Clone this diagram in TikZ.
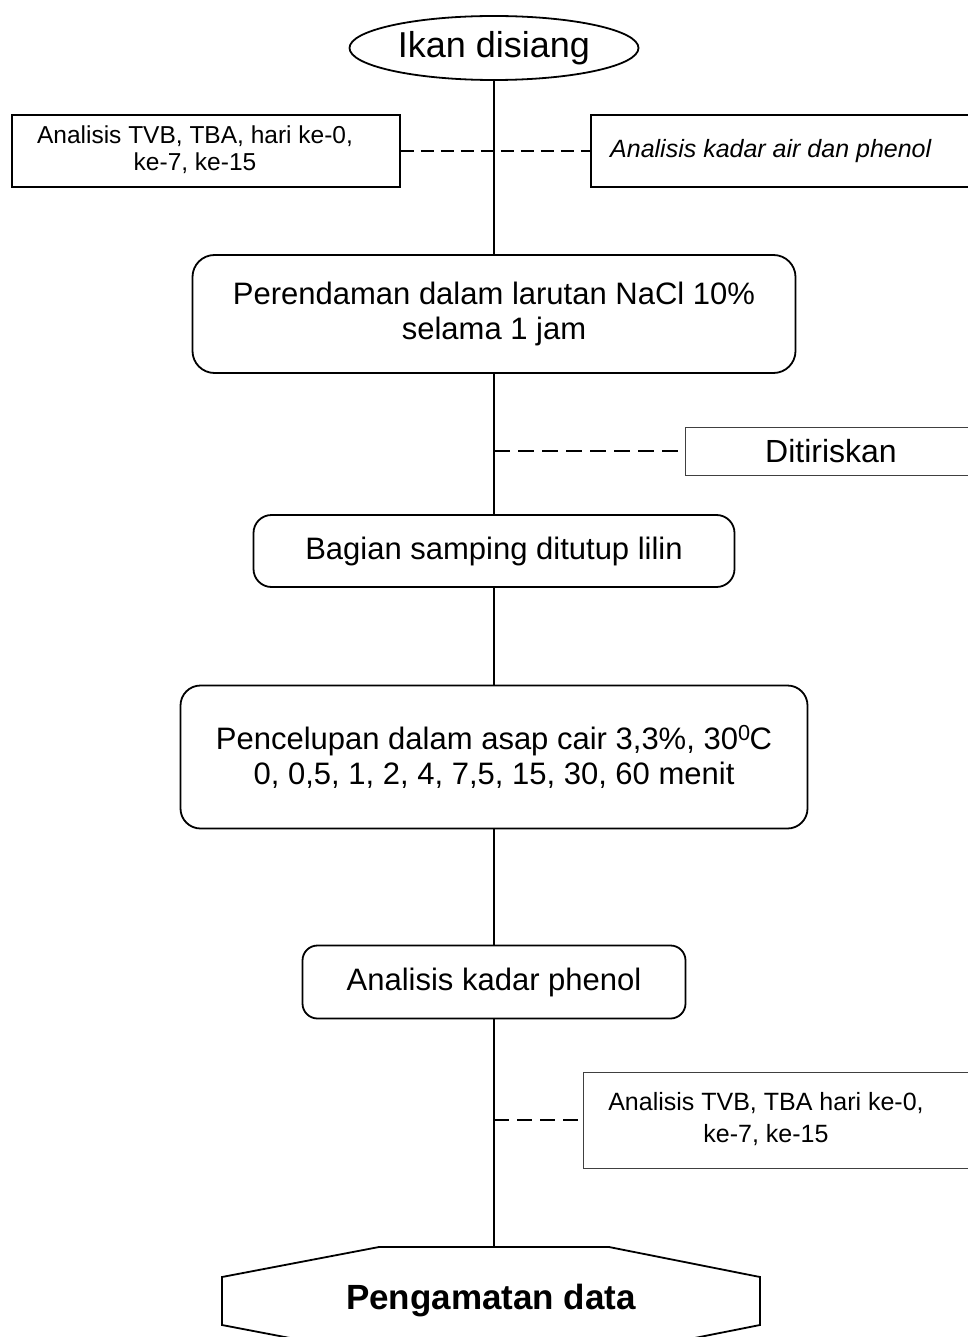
\documentclass[tikz,border=0pt]{standalone}
\usepackage{fontspec}
\setmainfont{Liberation Sans}
\usetikzlibrary{arrows.meta, positioning, shapes.geometric, calc}

\begin{document}
\begin{tikzpicture}[x=1pt, y=-1pt, >=Stealth]
    \tikzset{start/.style = {ellipse, draw, line width=1.8pt, inner sep=0pt, minimum width=289pt, minimum height=64pt, font=\fontsize{36}{40}\selectfont}}
    \tikzset{process/.style = {rectangle, draw, line width=1.8pt, rounded corners=20pt, align=center, font=\fontsize{31}{35}\selectfont}}
    \tikzset{note/.style = {rectangle, draw, line width=1.6pt}}
    \tikzset{thinnote/.style = {rectangle, draw=black!75, line width=0.9pt}}
    \tikzset{notetext/.style = {align=center, inner sep=0pt, font=\fontsize{25}{32}\selectfont}}
    \tikzset{flow/.style = {draw, line width=1.5pt}}
    \tikzset{link/.style = {draw, line width=1.5pt, dash pattern=on 13pt off 7pt}}

    \useasboundingbox[fill=white] (0,0) rectangle (967,1337);

    % Process flow
    \node [start] (ikan) at (494,48) {Ikan disiang};
    \node [note, minimum width=388pt, minimum height=72pt] (tvbkiri) at (206,151) {};
    \node [notetext, font=\fontsize{24.5}{27}\selectfont] (tvbkiritext) at (195,150) {Analisis TVB, TBA, hari ke-0,\\ke-7, ke-15};
    \node [note, minimum width=400pt, minimum height=72pt, anchor=west] (kadar) at (590,151) {};
    \node [notetext, font=\itshape\fontsize{25}{30}\selectfont, right=20pt of kadar.west] (kadartext) {Analisis kadar air dan phenol};
    \node [process, minimum width=603pt, minimum height=118pt, rounded corners=22pt] (rendam) at (494,314) {Perendaman dalam larutan NaCl 10\%\\selama 1 jam};
    \node [thinnote, minimum width=292pt, minimum height=48pt, font=\fontsize{32}{36}\selectfont] (tiris) at (831,451) {Ditiriskan};
    \node [process, minimum width=481pt, minimum height=72pt, rounded corners=18pt] (lilin) at (494,551) {Bagian samping ditutup lilin};
    \node [process, minimum width=627pt, minimum height=143pt] (celup) at (494,757) {Pencelupan dalam asap cair 3,3\%, 30\textsuperscript{0}\kern-1pt C\\0, 0,5, 1, 2, 4, 7,5, 15, 30, 60 menit};
    \node [process, minimum width=383pt, minimum height=73pt, rounded corners=15pt] (phenol) at (494,982) {Analisis kadar phenol};
    \node [thinnote, minimum width=420pt, minimum height=96pt, anchor=west] (tvbkanan) at (583,1120) {};
    \node [notetext] (tvbkanantext) at (766,1119) {Analisis TVB, TBA hari ke-0,\\ke-7, ke-15};
    \node [font=\bfseries\fontsize{35}{40}\selectfont] (data) at (491,1301) {Pengamatan data};
    \draw [line width=1.8pt] ($(data)+(-112,-54)$) -- ($(data)+(118,-54)$) -- ($(data)+(269,-24)$) -- ($(data)+(269,24)$)
        -- ($(data)+(118,54)$) -- ($(data)+(-112,54)$) -- ($(data)+(-269,24)$) -- ($(data)+(-269,-24)$) -- cycle;
    \coordinate (hextop) at ($(data)+(0,-54)$);

    % Connections
    \draw [flow] (ikan) -- (rendam);
    \draw [flow] (rendam) -- (lilin);
    \draw [flow] (lilin) -- (celup);
    \draw [flow] (celup) -- (phenol);
    \draw [flow] (phenol.south) -- (phenol.south |- hextop);
    \draw [link] (tvbkiri) -- (kadar);
    \draw [link, dash pattern=on 16pt off 8pt] (tiris.west -| rendam.south) -- (tiris.west);
    \draw [link, dash pattern=on 15pt off 8pt] (tvbkanan.west -| phenol.south) -- (tvbkanan.west);
\end{tikzpicture}
\end{document}
